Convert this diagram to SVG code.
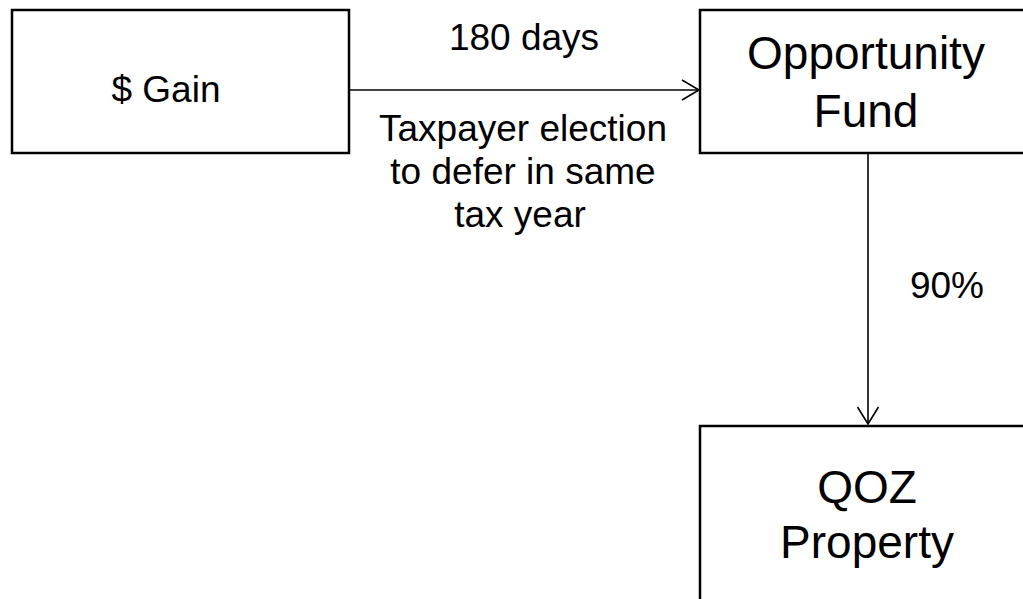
<svg xmlns="http://www.w3.org/2000/svg" width="1023" height="599" viewBox="0 0 1023 599">
<style>
.box{fill:#fff;stroke:#000;stroke-width:2.5}
.lbl{font-family:"Liberation Sans",Arial,sans-serif;font-size:37px;fill:#000;text-anchor:middle}
.big{font-family:"Liberation Sans",Arial,sans-serif;font-size:46px;fill:#000;text-anchor:middle}
.conn{fill:none;stroke:#000;stroke-width:1.6}
</style>
<rect width="1023" height="599" fill="#fff"/>
<g id="gain">
<rect class="box" x="12" y="10" width="337" height="143"/>
<text class="lbl" x="166" y="102">$ Gain</text>
</g>
<g id="fund">
<rect class="box" x="700" y="10" width="336" height="143"/>
<text class="big" x="866" y="69">Opportunity</text>
<text class="big" x="866" y="127">Fund</text>
</g>
<g id="qoz">
<rect class="box" x="700" y="426" width="336" height="200"/>
<text class="big" x="867" y="503">QOZ</text>
<text class="big" x="867" y="558">Property</text>
</g>
<g id="connectors">
<path class="conn" d="M349 90H699"/>
<path class="conn" d="M682 80L699 90L682 100"/>
<path class="conn" d="M868 153V424"/>
<path class="conn" d="M857.5 407L868 424L878.5 407"/>
<text class="lbl" x="524" y="50">180 days</text>
<text class="lbl" x="523" y="141">Taxpayer election</text>
<text class="lbl" x="523" y="184">to defer in same</text>
<text class="lbl" x="520" y="227">tax year</text>
<text class="lbl" x="947" y="298">90%</text>
</g>
</svg>
